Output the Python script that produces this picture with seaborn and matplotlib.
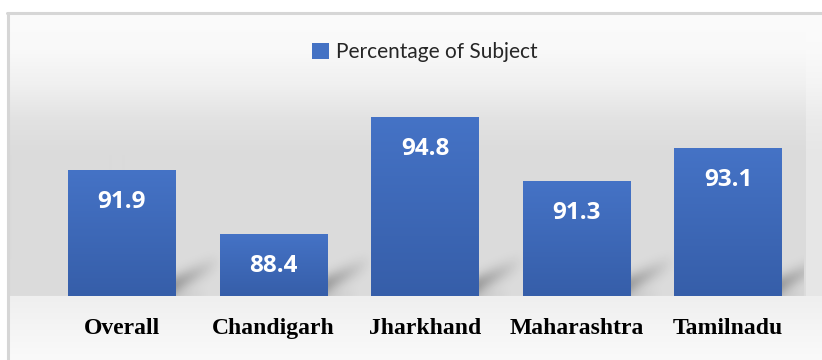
import numpy as np
import pandas as pd
import matplotlib
matplotlib.use("Agg")
import matplotlib.pyplot as plt
from matplotlib.patches import Patch
from matplotlib.lines import Line2D
import seaborn as sns

# ---- data -------------------------------------------------------------
regions = ["Overall", "Chandigarh", "Jharkhand", "Maharashtra", "Tamilnadu"]
percentages = [91.9, 88.4, 94.8, 91.3, 93.1]
series_name = "Percentage of Subject"
y_range = (85, 96)

df = pd.DataFrame({"Region": regions, "Percentage": percentages})

sns.set_theme(style="white")
plt.rcParams["font.family"] = ["DejaVu Sans"]

W, H, DPI = 822, 360, 100
fig = plt.figure(figsize=(W / DPI, H / DPI), dpi=DPI)
fig.patch.set_facecolor("white")

# plot-area placement (pixels from the top-left corner)
px_left, px_right, px_base, px_top = 46, 804, 296, 95

# ---- chart-area background: soft vertical gradient --------------------
bg = fig.add_axes([0, 0, 1, 1], zorder=0)
bg.set_axis_off()
rows = np.arange(H) + 0.5
knot_y = [0, 14, 50, 85, 120, 155, 260, px_base - 0.5, px_base + 0.5, 330, 360]
knot_v = [251, 251, 249, 240, 226, 219, 219, 220, 239, 245, 250]
prof = np.interp(rows, knot_y, knot_v)
img = np.repeat(prof[:, None], W, axis=1)
# right of the plot area the gray is a little lighter
mask = (np.arange(W)[None, :] > px_right) & (rows[:, None] < px_base)
img = np.where(mask, img + (251 - img) * 0.35, img)
rgb = np.dstack([img, img, img]) / 255.0
bg.imshow(rgb, extent=(0, W, H, 0), aspect="auto", interpolation="bilinear")
bg.add_patch(plt.Rectangle((0, 0), W, 13, color="white", lw=0))
bg.add_patch(plt.Rectangle((0, 0), 7, H, color="white", lw=0))
bg.set_xlim(0, W)
bg.set_ylim(H, 0)

# frame of the chart area (top and left edges)
lc = "#d6d6d6"
fig.add_artist(Line2D([6.5 / W, 1], [1 - 13 / H, 1 - 13 / H], color=lc, lw=2.2))
fig.add_artist(Line2D([7.5 / W, 7.5 / W], [1 - 13 / H, 0], color=lc, lw=2.2))

# ---- main axes --------------------------------------------------------
ax = fig.add_axes([px_left / W, 1 - px_base / H,
                   (px_right - px_left) / W, (px_base - px_top) / H], zorder=2)
ax.set_facecolor("none")

bar_color = "#4472C4"
sns.barplot(data=df, x="Region", y="Percentage", color=bar_color,
            saturation=1, width=0.71, ax=ax, zorder=3, linewidth=0)
ax.set_ylim(*y_range)
ax.set_xlim(-0.5, len(regions) - 0.5)

# pixel scale of the data units
sx = (px_right - px_left) / len(regions)
sy = (px_base - px_top) / (y_range[1] - y_range[0])

# bar fill: top-to-bottom blue gradient
top_c = np.array([0x45, 0x73, 0xC6]) / 255
bot_c = np.array([0x36, 0x5E, 0xA9]) / 255
grad = np.linspace(0, 1, 256)[:, None, None]
grad_img = top_c * (1 - grad) + bot_c * grad

# soft perspective shadow cast to the right of each bar foot
sh_w, sh_h = 56, 56
gx, gy = np.meshgrid(np.arange(sh_w) + 0.5, np.arange(sh_h) + 0.5)
centre = 12 + 0.5 * gx
alpha = 0.26 * np.exp(-((gy - centre) / 10.0) ** 2) * np.clip(1 - gx / 46, 0, 1) ** 1.1
alpha += 0.07 * np.exp(-(gy / 9.0) ** 2) * np.clip(1 - gx / 34, 0, 1)
shadow = np.zeros((sh_h, sh_w, 4))
shadow[..., 3] = alpha
shadow = shadow[::-1]  # row 0 at the top for imshow

for patch, val in zip(ax.patches, percentages):
    x0 = patch.get_x()
    w = patch.get_width()
    x1 = x0 + w
    ax.imshow(shadow, extent=(x1, x1 + sh_w / sx, y_range[0], y_range[0] + sh_h / sy),
              aspect="auto", interpolation="bilinear", zorder=2)
    im = ax.imshow(grad_img, extent=(x0, x1, y_range[0], val), aspect="auto",
                   interpolation="bilinear", zorder=4)
    im.set_clip_path(patch)
    ax.text(x0 + w / 2, val - 38 / sy, f"{val}", ha="center", va="baseline",
            color="white", fontsize=17.5, fontweight="bold",
            family=["Open Sans", "DejaVu Sans"], zorder=5)

ax.set_xlim(-0.5, len(regions) - 0.5)
ax.set_ylim(*y_range)

for s in ax.spines.values():
    s.set_visible(False)
ax.set_yticks([])
ax.set_xlabel("")
ax.set_ylabel("")
ax.set_xticks(range(len(regions)))
ax.set_xticklabels(regions, fontsize=17, fontweight="bold",
                   family=["Liberation Serif", "DejaVu Serif"], color="black")
ax.tick_params(axis="x", length=0, pad=16)

# ---- legend -----------------------------------------------------------
handle = Patch(facecolor=bar_color, edgecolor="none")
fig.legend([handle], [series_name], loc="center",
           bbox_to_anchor=((px_left + px_right) / 2 / W, 1 - 52 / H),
           frameon=False, handlelength=0.8, handleheight=0.8,
           handletextpad=0.35, borderpad=0,
           prop={"family": ["Lato", "DejaVu Sans"], "size": 15})

fig.savefig("out.png", dpi=DPI)
